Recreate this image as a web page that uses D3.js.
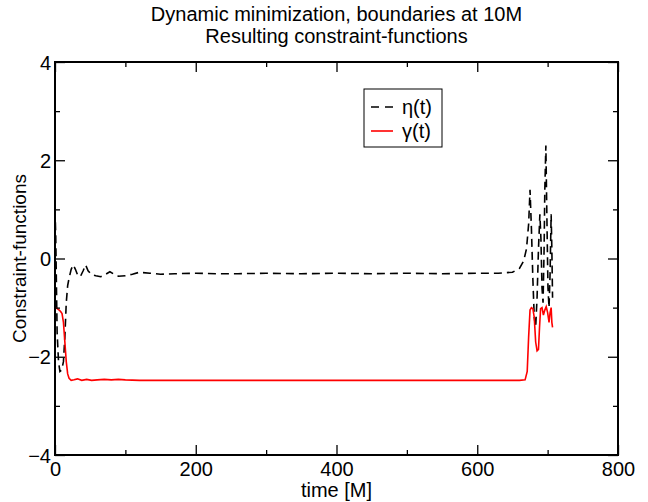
<!DOCTYPE html>
<html>
<head>
<meta charset="utf-8">
<script src="https://cdn.jsdelivr.net/npm/d3@7"></script>
<style>
  body { margin: 0; background: #fff; }
  text { font-family: "Liberation Sans", Arial, Helvetica, sans-serif; fill: #000; }
  .axis path { display: none; }
  .axis line { stroke: #000; stroke-width: 1.3; }
</style>
</head>
<body>
<div id="chart"></div>
<script>
// Data
const etaTime = [0, 1, 2, 3, 5, 7, 9.5, 12, 14, 16, 18, 20, 23, 26, 29, 32, 36, 40, 43.5, 47, 52, 58, 65, 72, 78, 84, 90, 100, 110, 120, 135, 150, 170, 200, 230, 260, 300, 350, 400, 450, 500, 550, 600, 630, 650, 660, 666, 670, 673, 675, 677, 679, 681, 683, 685, 687, 689, 690.5, 692, 693.5, 695, 696, 697.5, 699, 700.5, 702, 703.5, 705, 706, 707]
const etaValue = [1.0, 0.5, -0.5, -1.5, -2.1, -2.3, -2.27, -2.1, -1.6, -0.9, -0.55, -0.4, -0.22, -0.13, -0.22, -0.33, -0.37, -0.25, -0.13, -0.25, -0.33, -0.35, -0.37, -0.32, -0.27, -0.32, -0.36, -0.35, -0.32, -0.28, -0.3, -0.32, -0.31, -0.3, -0.31, -0.31, -0.3, -0.31, -0.3, -0.31, -0.3, -0.31, -0.3, -0.3, -0.28, -0.2, -0.05, 0.2, 0.7, 1.4, 0.6, -0.4, -1.2, -1.4, -0.8, 0.2, 0.9, 0.4, -0.6, -0.9, 0.2, 1.4, 2.3, 0.8, -0.6, -1.0, -0.3, 0.9, 0.2, -0.8]

const gammaTime = [0, 3, 6, 8, 10, 12, 14, 16, 18, 20, 23, 27, 32, 38, 45, 52, 60, 70, 80, 90, 100, 120, 200, 300, 400, 500, 600, 660, 668, 671, 673, 675, 677, 679, 681, 683, 685, 687, 688.5, 690, 692, 694, 696, 698, 700, 702, 703.5, 705, 706, 707]
const gammaValue = [-1.0, -1.02, -1.05, -1.08, -1.12, -1.3, -1.7, -2.1, -2.35, -2.44, -2.48, -2.47, -2.45, -2.48, -2.46, -2.48, -2.47, -2.46, -2.47, -2.46, -2.47, -2.48, -2.48, -2.48, -2.48, -2.48, -2.48, -2.48, -2.47, -2.3, -1.6, -1.05, -1.0, -1.02, -1.2, -1.7, -1.88, -1.85, -1.4, -1.02, -1.0, -1.15, -1.05, -0.98, -1.1, -1.3, -1.1, -1.0, -1.3, -1.4]

const xMajorTicks = [0, 200, 400, 600, 800]
const xMinorTicks = [100, 300, 500, 700]
const yMajorTicks = [-4, -2, 0, 2, 4]
const yMinorTicks = [-3, -1, 1, 3]

const titleLines = ['Dynamic minimization, boundaries at 10M', 'Resulting constraint-functions']

const eta = etaTime.map((t, i) => ({ t, v: etaValue[i] }))
const gamma = gammaTime.map((t, i) => ({ t, v: gammaValue[i] }))

// Dimensions
const dimensions = {
  width: 648,
  height: 502,
  margin: { top: 62, bottom: 47, left: 55, right: 30 }
}
dimensions.ctrWidth = dimensions.width - dimensions.margin.left - dimensions.margin.right
dimensions.ctrHeight = dimensions.height - dimensions.margin.top - dimensions.margin.bottom

const svg = d3.select('#chart')
  .append('svg')
  .attr('width', dimensions.width)
  .attr('height', dimensions.height)

const ctr = svg.append('g')
  .attr('transform', `translate(${dimensions.margin.left}, ${dimensions.margin.top})`)

// Scales
const xScale = d3.scaleLinear()
  .domain([0, 800])
  .range([0, dimensions.ctrWidth])

const yScale = d3.scaleLinear()
  .domain([-4, 4])
  .range([dimensions.ctrHeight, 0])

// Lines
const line = d3.line()
  .x(d => xScale(d.t))
  .y(d => yScale(d.v))

ctr.append('path')
  .datum(eta)
  .attr('d', line)
  .attr('fill', 'none')
  .attr('stroke', '#000')
  .attr('stroke-width', 1.6)
  .attr('stroke-dasharray', '8,5')

ctr.append('path')
  .datum(gamma)
  .attr('d', line)
  .attr('fill', 'none')
  .attr('stroke', '#ff0000')
  .attr('stroke-width', 1.6)

// Axes (ticks inside, on all four sides)
const addTicks = (axisFn, scale, values, size, transform, labels) => {
  const g = ctr.append('g')
    .classed('axis', true)
    .attr('transform', transform)
    .call(axisFn(scale).tickValues(values).tickSize(-size).tickFormat(labels ? d3.format('d') : ''))
  g.selectAll('text').style('font-size', '20px')
  return g
}

const xAxisGroup = addTicks(d3.axisBottom, xScale, xMajorTicks, 10, `translate(0, ${dimensions.ctrHeight})`, true)
xAxisGroup.selectAll('text').attr('y', 21).attr('dy', 0)
addTicks(d3.axisBottom, xScale, xMinorTicks, 5, `translate(0, ${dimensions.ctrHeight})`, false)
addTicks(d3.axisTop, xScale, xMajorTicks, 10, 'translate(0, 0)', false)
addTicks(d3.axisTop, xScale, xMinorTicks, 5, 'translate(0, 0)', false)

const yAxisGroup = addTicks(d3.axisLeft, yScale, yMajorTicks, 10, 'translate(0, 0)', true)
yAxisGroup.selectAll('text').attr('x', -4).attr('dy', '0.36em')
addTicks(d3.axisLeft, yScale, yMinorTicks, 5, 'translate(0, 0)', false)
addTicks(d3.axisRight, yScale, yMajorTicks, 10, `translate(${dimensions.ctrWidth}, 0)`, false)
addTicks(d3.axisRight, yScale, yMinorTicks, 5, `translate(${dimensions.ctrWidth}, 0)`, false)

// Frame
ctr.append('rect')
  .attr('width', dimensions.ctrWidth)
  .attr('height', dimensions.ctrHeight)
  .attr('fill', 'none')
  .attr('stroke', '#000')
  .attr('stroke-width', 2)

// Axis labels
ctr.append('text')
  .text('time [M]')
  .attr('x', dimensions.ctrWidth / 2)
  .attr('y', dimensions.ctrHeight + 42)
  .style('text-anchor', 'middle')
  .style('font-size', '20px')

ctr.append('text')
  .text('Constraint-functions')
  .attr('transform', `translate(${-dimensions.margin.left + 26}, ${dimensions.ctrHeight / 2}) rotate(-90)`)
  .style('text-anchor', 'middle')
  .style('font-size', '19px')

// Title
svg.selectAll('.title')
  .data(titleLines)
  .join('text')
  .classed('title', true)
  .text(d => d)
  .attr('x', dimensions.margin.left + dimensions.ctrWidth / 2)
  .attr('y', (_, i) => 21 + i * 22)
  .style('text-anchor', 'middle')
  .style('font-size', '20px')

// Legend
const legend = svg.append('g')
  .attr('transform', 'translate(364, 89)')

legend.append('rect')
  .attr('width', 78)
  .attr('height', 58)
  .attr('fill', '#fff')
  .attr('stroke', '#000')
  .attr('stroke-width', 1)

const legendItems = [
  { label: 'η(t)', color: '#000', dash: '8,6' },
  { label: 'γ(t)', color: '#ff0000', dash: null }
]

legendItems.forEach((item, i) => {
  const y = 18 + i * 24
  legend.append('line')
    .attr('x1', 7).attr('x2', 29)
    .attr('y1', y).attr('y2', y)
    .attr('stroke', item.color)
    .attr('stroke-width', 1.6)
    .attr('stroke-dasharray', item.dash)
  legend.append('text')
    .text(item.label)
    .attr('x', 38)
    .attr('y', y)
    .attr('dy', '0.35em')
    .style('font-size', '20px')
})
</script>
</body>
</html>
